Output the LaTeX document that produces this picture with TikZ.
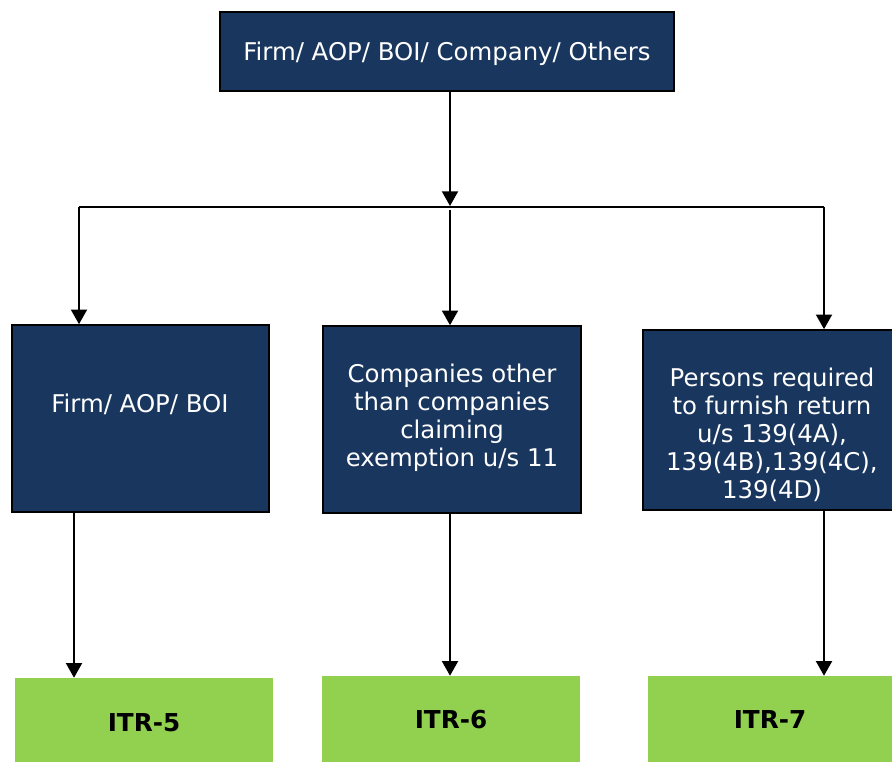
\documentclass[tikz,border=0pt]{standalone}
\usepackage{fontspec}
\setmainfont{DejaVu Sans}
\usetikzlibrary{arrows.meta}
\definecolor{navy}{RGB}{25,54,94}
\definecolor{itrgreen}{RGB}{146,208,80}
\tikzset{
  navybox/.style={draw=black, line width=1.2pt, fill=navy, inner sep=0pt},
  greenbox/.style={draw=none, fill=itrgreen, inner sep=0pt},
  wtext/.style={text=white, font=\fontsize{18.3pt}{21pt}\selectfont, align=center, inner sep=0pt},
  btext/.style={text=black, font=\fontsize{18.5pt}{21pt}\selectfont\bfseries, inner sep=0pt},
  conn/.style={draw=black, line width=1.5pt},
  arr/.style={conn, -{Triangle[width=12pt,length=11pt]}}
}
\begin{document}
\begin{tikzpicture}[x=0.75pt,y=-0.75pt]
\useasboundingbox (0,0) rectangle (892,762);
% boxes
\node[navybox, minimum width=454*0.75pt, minimum height=79*0.75pt] (top) at (447,51.5) {};
\node[wtext] (toptext) at (447,54) {Firm/ AOP/ BOI/ Company/ Others};
\node[navybox, minimum width=257*0.75pt, minimum height=187*0.75pt] (b1) at (140.5,418.5) {};
\node[wtext] (b1text) at (140,404) {Firm/ AOP/ BOI};
\node[navybox, minimum width=258*0.75pt, minimum height=187*0.75pt] (b2) at (452,419.5) {};
\node[wtext] (b2text) at (452,418) {Companies other\\than companies\\claiming\\exemption u/s 11};
\node[navybox, minimum width=258*0.75pt, minimum height=180*0.75pt] (b3) at (772,420) {};
\node[wtext] (b3text) at (772,435) {Persons required\\to furnish return\\u/s 139(4A),\\139(4B),139(4C),\\139(4D)};
\node[greenbox, minimum width=258*0.75pt, minimum height=86*0.75pt] (g1) at (144,721) {};
\node[btext] (g1text) at (144,723) {ITR-5};
\node[greenbox, minimum width=258*0.75pt, minimum height=86*0.75pt] (g2) at (451,719) {};
\node[btext] (g2text) at (451,720) {ITR-6};
\node[greenbox, minimum width=258*0.75pt, minimum height=86*0.75pt] (g3) at (777,719) {};
\node[btext] (g3text) at (770,720) {ITR-7};
% junction coordinates
\coordinate (jl) at (79,207);
\coordinate (jc) at (450,206);
\coordinate (jr) at (824,207);
\coordinate (jm) at (450,210);
\coordinate (c1) at (74,0);
\coordinate (c2) at (450,0);
\coordinate (c3) at (824,0);
% connectors
\draw[arr] (jc |- top.south) -- (jc);
\draw[conn] (jl) -- (jr);
\draw[arr] (jl) -- (jl |- b1.north);
\draw[arr] (jm) -- (jm |- b2.north);
\draw[arr] (jr) -- (jr |- b3.north);
\draw[arr] (c1 |- b1.south) -- (c1 |- g1.north);
\draw[arr] (c2 |- b2.south) -- (c2 |- g2.north);
\draw[arr] (c3 |- b3.south) -- (c3 |- g3.north);
\end{tikzpicture}
\end{document}
